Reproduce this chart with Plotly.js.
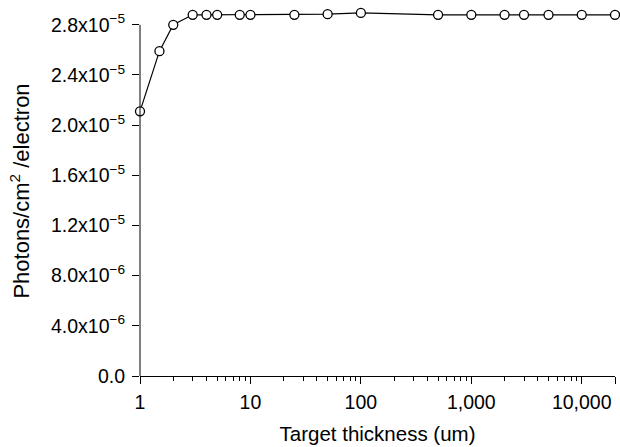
<!DOCTYPE html>
<html>
<head>
<meta charset="utf-8">
<script src="https://cdn.plot.ly/plotly-3.0.1.min.js"></script>
<style>html,body{margin:0;padding:0;background:#fff;}#chart{width:620px;height:447px;}</style>
</head>
<body>
<div id="chart"></div>
<script>
const thickness = [1, 1.5, 2, 3, 4, 5, 8, 10, 25, 50, 100, 500, 1000, 2000, 3000, 5000, 10000, 20000];
const photons = [2.11e-5, 2.59e-5, 2.80e-5, 2.88e-5, 2.88e-5, 2.88e-5, 2.88e-5, 2.88e-5, 2.88e-5, 2.885e-5, 2.895e-5, 2.88e-5, 2.88e-5, 2.88e-5, 2.88e-5, 2.88e-5, 2.88e-5, 2.88e-5];
const xTickVals = [1, 10, 100, 1000, 10000, 20000];
const xTickText = ['1', '10', '100', '1,000', '10,000', ''];
const yTickVals = [0, 4e-6, 8e-6, 1.2e-5, 1.6e-5, 2.0e-5, 2.4e-5, 2.8e-5];
const yTickText = ['0.0', '4.0x10<sup>−6</sup>', '8.0x10<sup>−6</sup>', '1.2x10<sup>−5</sup>', '1.6x10<sup>−5</sup>', '2.0x10<sup>−5</sup>', '2.4x10<sup>−5</sup>', '2.8x10<sup>−5</sup>'];
const yAxisTop = 2.8e-5;

const fam = 'Liberation Sans, Arial, sans-serif';
const tickFont = {family: fam, size: 19.5, color: '#000'};
const xTitleFont = {family: fam, size: 20.5, color: '#000'};
const yTitleFont = {family: fam, size: 22, color: '#000'};

const trace = {
  x: thickness, y: photons, type: 'scatter', mode: 'lines+markers',
  line: {color: '#000', width: 1.2},
  marker: {symbol: 'circle', size: 9, color: '#fff', line: {color: '#000', width: 1.3}},
  cliponaxis: false, showlegend: false
};

const layout = {
  width: 620, height: 447,
  margin: {l: 140, r: 5, t: 6, b: 71},
  paper_bgcolor: '#fff', plot_bgcolor: '#fff',
  font: tickFont,
  xaxis: {
    type: 'log', range: [0, Math.log10(20000)],
    tickvals: xTickVals, ticktext: xTickText,
    ticks: 'outside', ticklen: 7, tickwidth: 1, tickcolor: '#000',
    ticklabelstandoff: 2,
    showline: true, linecolor: '#000', linewidth: 1,
    showgrid: false, zeroline: false,
    minor: {ticks: 'outside', ticklen: 4, tickwidth: 1, tickcolor: '#000', dtick: 'D1', showgrid: false},
    title: {text: 'Target thickness (um)', font: xTitleFont, standoff: 14},
    tickfont: tickFont
  },
  yaxis: {
    range: [0, 2.95e-5],
    tickvals: yTickVals, ticktext: yTickText,
    ticks: 'outside', ticklen: 7, tickwidth: 1, tickcolor: '#000',
    ticklabelstandoff: 3,
    showline: false, showgrid: false, zeroline: false,
    title: {text: 'Photons/cm<sup>2</sup> /electron', font: yTitleFont, standoff: 15},
    tickfont: tickFont
  },
  shapes: [{type: 'line', xref: 'paper', yref: 'y', x0: 0, x1: 0, y0: 0, y1: yAxisTop, line: {color: '#000', width: 1}, layer: 'above'}]
};

Plotly.newPlot('chart', [trace], layout, {displayModeBar: false, staticPlot: true});
</script>
</body>
</html>
